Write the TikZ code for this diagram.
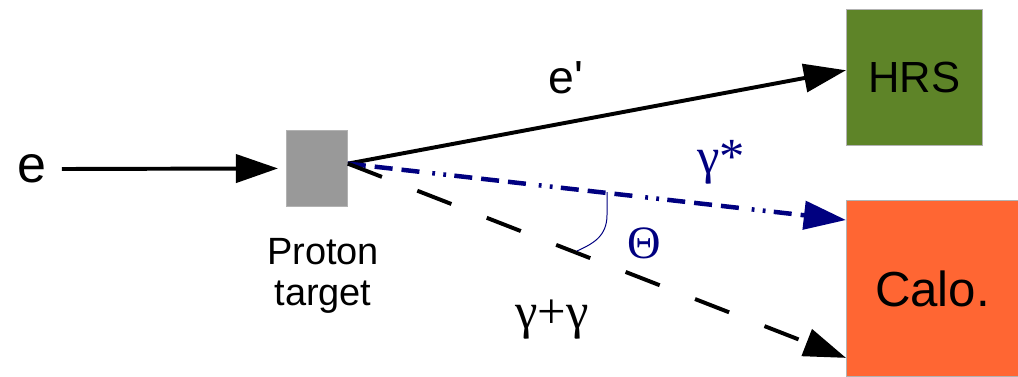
\documentclass[tikz,border=0pt]{standalone}
\usepackage{fontspec}
\setmainfont{Liberation Sans}
\newfontfamily\rawsans{Liberation Sans}
\newfontfamily\greekfont{Liberation Serif}
\usetikzlibrary{arrows.meta, positioning}
\definecolor{hrsgreen}{HTML}{5E8428}
\definecolor{calored}{HTML}{FF6633}
\definecolor{photonblue}{HTML}{000080}
\definecolor{targetgray}{HTML}{999999}

\begin{document}
\begin{tikzpicture}[x=0.025cm, y=-0.025cm,
    det/.style={draw=gray!60, line width=0.6pt, fill=#1, inner sep=0pt, anchor=north west},
    track/.style={line width=2.8pt, -{Triangle[length=30pt, width=20pt]}},
    photon/.style={track, line width=3.2pt, photonblue, dash pattern=on 12.8pt off 6.4pt on 12.8pt off 6.4pt on 12.8pt off 9.2pt on 2pt off 5.9pt on 2pt off 5.9pt},
    pair/.style={track, dash pattern=on 26pt off 27pt},
    glabel/.style={font=\fontsize{#1}{#1}\selectfont\greekfont, inner sep=0pt, anchor=base west},
]
\useasboundingbox (0,0) rectangle (1018,376);

% target and detectors
\node[det=targetgray, minimum width=1.525cm, minimum height=1.9cm] (target) at (286,130) {};
\node[det=hrsgreen, minimum width=3.4cm, minimum height=3.4cm, font=\fontsize{31}{31}\selectfont] (hrs) at (846,9) {HRS};
\node[det=calored, minimum width=4.3cm, minimum height=4.4cm, font=\fontsize{35}{35}\selectfont] (calo) at (846,200) {Calo.};
\node[font=\fontsize{27}{29}\selectfont, align=center, anchor=north, inner sep=0pt] (tlabel) at (323,238) {Proton\\target};

% beam
\node[font=\fontsize{37}{37}\selectfont, inner sep=0pt] (beam) at (32,169) {e};
\draw[track] ([xshift=0.38cm]beam.east) -- ([xshift=-0.2cm]target.west);

% outgoing particles
\coordinate (vtx) at ([yshift=0.12cm]target.east);
\draw[track] (vtx) -- ([yshift=0.18cm]hrs.west);
\draw[photon] (vtx) -- ([yshift=-0.5cm]calo.north west);
\draw[pair] (vtx) -- ([yshift=0.475cm]calo.south west);

% angle between photon and pair
\draw[photonblue, line width=0.7pt] (607,192) -- (607,215) .. controls (607,237) and (592,244) .. (577,251);

% labels
\node[font=\fontsize{33}{33}\selectfont\rawsans, inner sep=0pt, anchor=base west] (eout) at (548,93) {e'};
\node[glabel=36, text=photonblue] (gstar) at (697,173) {γ*};
\node[glabel=33, text=photonblue] (theta) at (627,258) {Θ};
\node[glabel=36] (gpair) at (515,328) {γ+γ};

\end{tikzpicture}
\end{document}
